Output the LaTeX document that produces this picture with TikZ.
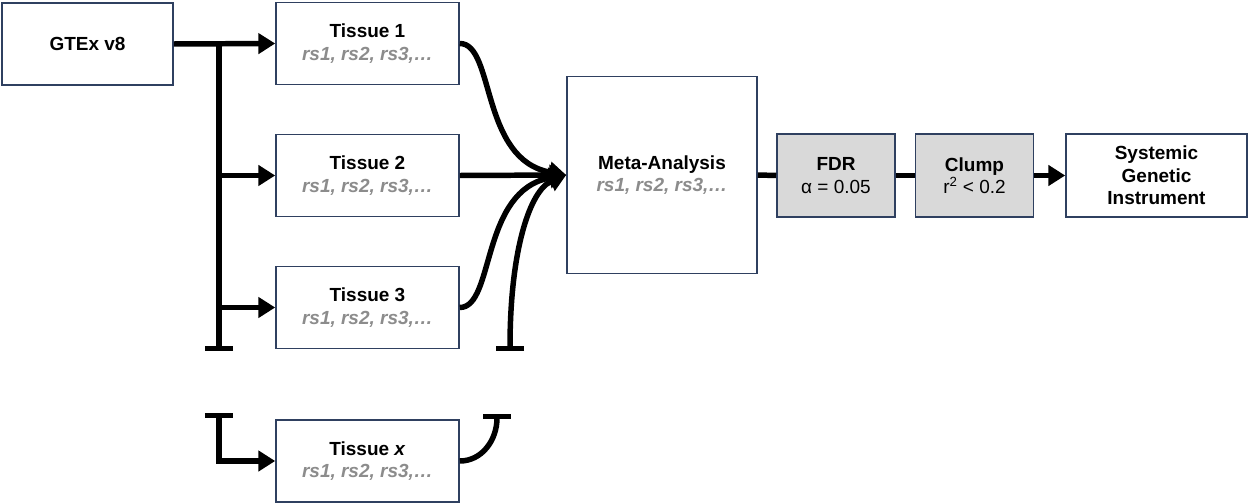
\documentclass[tikz,border=0pt]{standalone}
\usepackage{fontspec}
\setmainfont{Liberation Sans}
\usetikzlibrary{arrows.meta}
\definecolor{boxline}{RGB}{47,64,96}
\definecolor{rsgray}{RGB}{140,140,140}
\definecolor{filtfill}{RGB}{217,217,217}
\newcommand{\rsids}{\textcolor{rsgray}{\textbf{\textit{rs1, rs2, rs3,\dots}}}}

\begin{document}
\begin{tikzpicture}[x=0.025cm, y=-0.025cm,
    box/.style={draw=boxline, line width=1.1pt, fill=white, align=center, inner sep=0pt, font=\fontsize{13.5}{16}\selectfont},
    tissuebox/.style={box, minimum width=4.575cm, minimum height=2.05cm},
    filterbox/.style={box, fill=filtfill, minimum width=2.95cm, minimum height=2.075cm},
    link/.style={line width=3.9pt},
    arr/.style={link, -{Triangle[length=0.42cm, width=0.5cm]}},
    barred/.style={link, {Bar[width=0.7cm]}-{Triangle[length=0.42cm, width=0.5cm]}}]
    \useasboundingbox (0,0) rectangle (1248,504);
    % source
    \node[box, minimum width=4.275cm, minimum height=2.05cm] (gtex) at (87.5,44) {\bfseries GTEx v8};
    % tissues
    \foreach \n/\y/\lab in {1/43.5/1, 2/175.5/2, 3/307.5/3, x/461/{\textit{x}}} {
        \node[tissuebox] (T\n) at (367.5,\y) {\bfseries Tissue \lab\\ \rsids};
    }
    % meta-analysis and filters
    \node[box, minimum width=4.75cm, minimum height=4.925cm] (meta) at (662,175) {\bfseries Meta-Analysis\\ \rsids};
    \node[filterbox] (fdr) at (836,175.5) {\bfseries FDR\\ α = 0.05};
    \node[filterbox] (clump) at (974.5,175.5) {\bfseries Clump\\ r\textsuperscript{2} < 0.2};
    \node[box, minimum width=4.525cm, minimum height=2.075cm] (sgi) at (1156.5,175.5) {\bfseries Systemic\\ \bfseries Genetic\\ \bfseries Instrument};
    % split points
    \coordinate (split) at (219,44);
    \coordinate (trunkend) at (219,351);
    \coordinate (branchtop) at (219,413);
    \coordinate (mergeend) at (510,351);
    \coordinate (mergetop) at (497,414);
    % fan out to tissues
    \draw[arr] (gtex.east) -- (T1.west);
    \draw[link, -{Bar[width=0.7cm]}] (split) -- (trunkend);
    \draw[arr] (split |- T2.west) -- (T2.west);
    \draw[arr] (split |- T3.west) -- (T3.west);
    \draw[barred] (branchtop) |- (Tx.west);
    % merge into meta-analysis
    \draw[arr] (T1.east) .. controls (495,43.5) and (480,160) .. (meta.west);
    \draw[arr] (T2.east) -- (meta.west);
    \draw[arr] (T3.east) .. controls (495,307.5) and (480,190) .. (meta.west);
    \draw[barred] (mergeend) .. controls (510,250) and (530,190) .. (meta.west);
    \draw[link, -{Bar[width=0.7cm]}] (Tx.east) .. controls (482,461) and (497,440) .. (mergetop);
    % filters
    \draw[link] (meta.east) -- (fdr.west);
    \draw[link] (fdr.east) -- (clump.west);
    \draw[arr] (clump.east) -- (sgi.west);
\end{tikzpicture}
\end{document}
